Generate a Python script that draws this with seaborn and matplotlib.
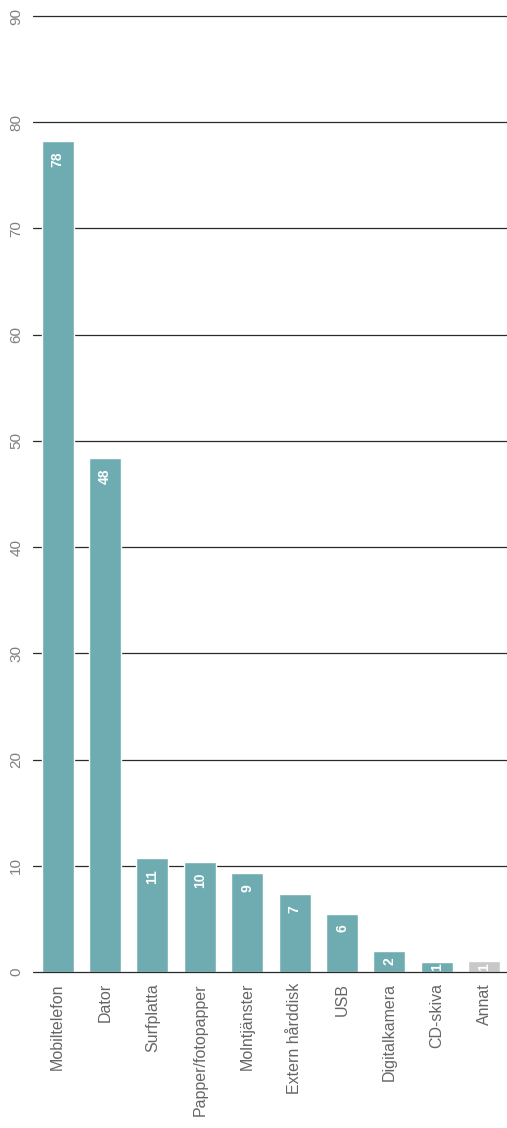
import matplotlib
matplotlib.use("Agg")
import matplotlib.pyplot as plt
import seaborn as sns
import pandas as pd

categories = ["Mobiltelefon", "Dator", "Surfplatta", "Papper/fotopapper", "Molntjänster",
              "Extern hårddisk", "USB", "Digitalkamera", "CD-skiva", "Annat"]
values = [78.2, 48.4, 10.7, 10.4, 9.3, 7.3, 5.5, 2.0, 0.9, 1.0]
labels = ["78", "48", "11", "10", "9", "7", "6", "2", "1", "1"]
yticks = [0, 10, 20, 30, 40, 50, 60, 70, 80, 90]

teal = "#6eacb1"
grey = "#c8c8c8"
colors = [teal] * 9 + [grey]

sns.set_style("white")
plt.rcParams["font.family"] = ["Liberation Sans", "DejaVu Sans"]

df = pd.DataFrame({"cat": categories, "val": values})

fig = plt.figure(figsize=(5.07, 11.28), dpi=100)
ax = fig.add_axes([0.065, 0.1383, 0.935, 0.8475])

sns.barplot(data=df, x="cat", y="val", hue="cat", palette=colors, legend=False,
            width=0.675, saturation=1, ax=ax, zorder=3)

ax.set_ylim(0, 90)
ax.set_xlim(-0.52, 9.48)
ax.set_yticks(yticks)
ax.set_yticklabels([str(t) for t in yticks], rotation=90, va="center", color="#808080", fontsize=11)
ax.set_xticks(range(len(categories)))
ax.set_xticklabels(categories, rotation=90, color="#666666", fontsize=11.5)
ax.tick_params(axis="x", length=0, pad=8)
ax.tick_params(axis="y", length=0, pad=7)
ax.set_xlabel("")
ax.set_ylabel("")

for t in yticks:
    ax.axhline(t, color="#2a2a2a", linewidth=0.9, zorder=2 if t else 5, clip_on=False)

for s in ax.spines.values():
    s.set_visible(False)

# value labels inside the bars, reading bottom to top
for i, (v, lab) in enumerate(zip(values, labels)):
    if v > 3:
        y, va = v - 1.0, "top"
    else:
        y, va = v / 2, "center"
    ax.text(i, y, lab, rotation=90, ha="center", va=va, color="white",
            fontsize=10, fontweight="bold", zorder=4, clip_on=True)

fig.savefig("out.png", dpi=100)
